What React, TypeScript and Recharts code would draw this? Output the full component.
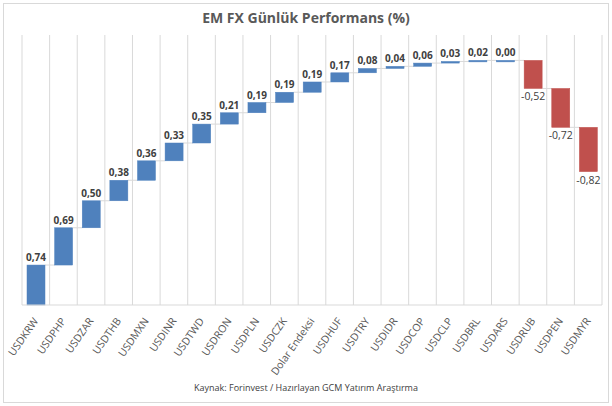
import React from 'react';
import { BarChart, Bar, XAxis, YAxis, CartesianGrid } from 'recharts';

const categories = [
  'USDKRW', 'USDPHP', 'USDZAR', 'USDTHB', 'USDMXN', 'USDINR', 'USDTWD', 'USDRON',
  'USDPLN', 'USDCZK', 'Dolar Endeksi', 'USDHUF', 'USDTRY', 'USDIDR', 'USDCOP',
  'USDCLP', 'USDBRL', 'USDARS', 'USDRUB', 'USDPEN', 'USDMYR',
];
const changes = [
  0.74, 0.69, 0.5, 0.38, 0.36, 0.33, 0.35, 0.21, 0.19, 0.19, 0.19, 0.17, 0.08, 0.04,
  0.06, 0.03, 0.02, 0.0, -0.52, -0.72, -0.82,
];
const yTicks = [0, 1, 2, 3, 4, 5];

const W = 612;
const H = 406;
const PLOT_LEFT = 22;
const PLOT_RIGHT = 602;
const PLOT_TOP = 35;
const PLOT_BOTTOM = 305;
const BAND = (PLOT_RIGHT - PLOT_LEFT) / categories.length;
const BAR_W = 18;
const FONT = '"Open Sans", "Liberation Sans", sans-serif';

// waterfall: invisible base + visible step
let run = 0;
const data = categories.map((name, i) => {
  const v = changes[i];
  const start = run;
  run += v;
  return {
    name,
    change: v,
    base: Math.min(start, run),
    step: Math.abs(v),
  };
});

const gridX = categories.map((_, i) => PLOT_LEFT + i * BAND).concat(PLOT_RIGHT);

const fmt = (v: number) => v.toFixed(2).replace('.', ',');

const StepShape = (props: any) => {
  const { x, y, width, height, index } = props;
  const v = changes[index];
  const neg = v < 0;
  const endY = neg ? y + height : y;
  const last = index === changes.length - 1;
  const cx = x + width / 2;
  return (
    <g>
      {!last && (
        <line
          x1={x + width}
          x2={x + width + (BAND - width)}
          y1={endY}
          y2={endY}
          stroke="#D9D9D9"
          strokeWidth={1}
        />
      )}
      <rect
        x={x}
        y={y}
        width={width}
        height={Math.max(height, 1.5)}
        fill={neg ? '#C0504D' : '#4F81BD'}
        stroke={neg ? '#C0504D' : '#4F81BD'}
        strokeWidth={0.5}
      />
      <text
        x={cx}
        y={neg ? y + height + 12 : y - 4}
        textAnchor="middle"
        fontSize={neg ? 10.5 : 10}
        fontWeight={neg ? 400 : 700}
        fill="#404040"
        fontFamily={FONT}
      >
        {fmt(v)}
      </text>
    </g>
  );
};

const Tick = (props: any) => {
  const { x, y, payload } = props;
  const tx = x + 3;
  const ty = y + 8;
  return (
    <text
      x={tx}
      y={ty}
      transform={`rotate(-55, ${tx}, ${ty})`}
      textAnchor="end"
      fontSize={10.5}
      fill="#595959"
      fontFamily={FONT}
    >
      {payload.value}
    </text>
  );
};

export default function App() {
  return (
    <div style={{ position: 'fixed', left: 0, top: 0, width: W, height: H, background: '#fff' }}>
      <div
        style={{
          position: 'absolute',
          left: 3,
          top: 3,
          width: W - 8,
          height: H - 8,
          border: '1px solid #D9D9D9',
        }}
      />
      <div
        style={{
          position: 'absolute',
          top: 8,
          left: 0,
          width: W,
          textAlign: 'center',
          fontFamily: FONT,
          fontWeight: 700,
          fontSize: 14,
          color: '#595959',
        }}
      >
        EM FX Günlük Performans (%)
      </div>
      <BarChart
        width={W}
        height={H}
        data={data}
        margin={{ top: PLOT_TOP, right: W - PLOT_RIGHT, left: PLOT_LEFT, bottom: 0 }}
        barSize={BAR_W}
        style={{ position: 'absolute', left: 0, top: 0 }}
      >
        <CartesianGrid horizontal={false} vertical verticalPoints={gridX} stroke="#D9D9D9" />
        <XAxis
          dataKey="name"
          interval={0}
          tick={<Tick />}
          tickLine={false}
          axisLine={{ stroke: '#D9D9D9' }}
          height={H - PLOT_BOTTOM}
        />
        <YAxis hide domain={[0, 5]} ticks={yTicks} width={0} />
        <Bar dataKey="base" stackId="w" fill="transparent" isAnimationActive={false} />
        <Bar dataKey="step" stackId="w" shape={<StepShape />} isAnimationActive={false} />
      </BarChart>
      <div
        style={{
          position: 'absolute',
          top: 381,
          left: 0,
          width: W,
          textAlign: 'center',
          fontFamily: FONT,
          fontSize: 9,
          color: '#404040',
        }}
      >
        Kaynak: Forinvest / Hazırlayan GCM Yatırım Araştırma
      </div>
    </div>
  );
}
